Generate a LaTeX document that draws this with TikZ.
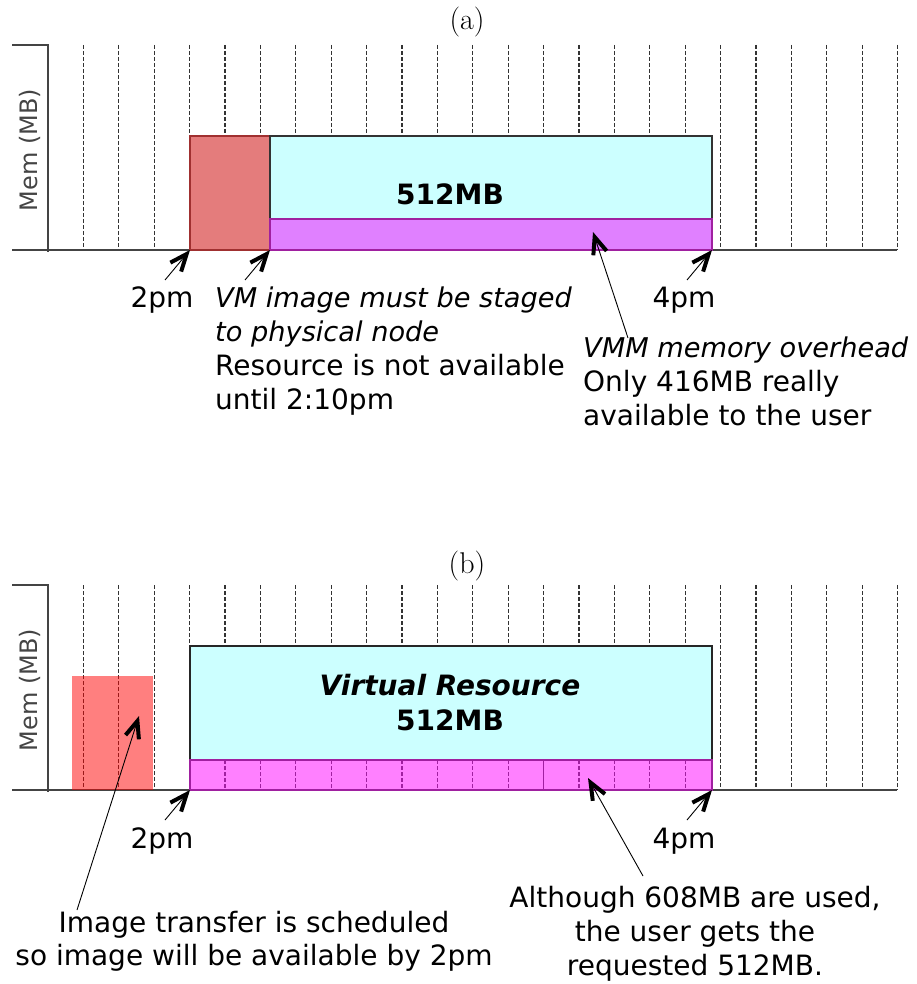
\documentclass[tikz,border=0pt]{standalone}
\usepackage{fontspec}
\newfontfamily\dv{DejaVu Sans}
\usetikzlibrary{arrows.meta}
\definecolor{cyanfill}{HTML}{CCFFFF}
\definecolor{magA}{HTML}{E080FF}
\definecolor{magB}{HTML}{FF80FF}
\definecolor{redA}{HTML}{E47C7C}
\definecolor{axisc}{HTML}{444444}
\definecolor{purp}{HTML}{A020A0}
\definecolor{darkred}{HTML}{A03030}
\newcommand{\itl}{\itshape\fontsize{27.2}{34}\selectfont}
\begin{document}
\begin{tikzpicture}[x=1pt,y=-1pt,
  lab/.style={font=\dv\fontsize{28}{34}\selectfont, inner sep=0pt},
  boldlab/.style={font=\dv\bfseries\fontsize{28}{35}\selectfont, inner sep=0pt},
  memlab/.style={font=\dv\fontsize{24}{28}\selectfont, text=axisc, rotate=90, inner sep=0pt},
  caplab/.style={font=\fontsize{30}{36}\selectfont, inner sep=0pt},
  gridline/.style={dash pattern=on 4pt off 2pt, line width=1.3pt, black!80},
  maggrid/.style={dash pattern=on 4pt off 2pt, line width=1.1pt, purp},
  axisline/.style={line width=1.6pt, axisc},
  sketch/.style={line width=0.9pt, -{Straight Barb[length=17pt,width=14pt,line width=4pt]}},
]
\useasboundingbox (0,0) rectangle (917,984);

% ---------- panel (a) ----------
\node[caplab] (capa) at (467,22) {(a)};
\foreach \k in {1,...,24} \draw[gridline] ({48+35.4*\k},45) -- ({48+35.4*\k},250);
\draw[axisline] (12,45) -- (48,45) -- (48,252);
\draw[axisline] (12,250) -- (897,250);
\node[memlab] (memA) at (30,150) {Mem (MB)};

\draw[fill=redA, draw=darkred, line width=1.2pt] (190,136) rectangle (270,250);
\draw[fill=cyanfill, draw=black!80, line width=1.2pt] (270,136) rectangle (712,219);
\draw[fill=magA, draw=purp, line width=1.2pt] (270,219) rectangle (712,250);
\node[boldlab, anchor=base] (memsizeA) at (450,205) {512MB};

\coordinate (tA2) at (190,250);  \coordinate (sA2) at (165,280);
\coordinate (tAst) at (270,250); \coordinate (sAst) at (245,280);
\coordinate (tA4) at (712,250);  \coordinate (sA4) at (687,280);
\coordinate (tAv) at (593,232);  \coordinate (sAv) at (628,338);
\draw[sketch] (sA2) -- (tA2);
\draw[sketch] (sAst) -- (tAst);
\draw[sketch] (sA4) -- (tA4);
\draw[sketch] (sAv) -- (tAv);

\node[lab, anchor=base] (twoA) at (162,307) {2pm};
\node[lab, anchor=base] (fourA) at (684,307) {4pm};
\node[lab, anchor=base west, align=left] (stage) at (215,409)
  {\itl VM image must be staged\\\itl to physical node\\Resource is not available\\until 2:10pm};
\node[lab, anchor=base west, align=left] (vmm) at (583,425)
  {\itl VMM memory overhead\\Only 416MB really\\available to the user};

% ---------- panel (b) ----------
\node[caplab] (capb) at (467,566) {(b)};
\foreach \k in {1,...,24} \draw[gridline] ({48+35.4*\k},585) -- ({48+35.4*\k},790);
\draw[axisline] (12,585) -- (48,585) -- (48,792);
\draw[axisline] (12,790) -- (897,790);
\node[memlab] (memB) at (30,690) {Mem (MB)};

\fill[red, fill opacity=0.5] (72,676) rectangle (153,790);
\draw[fill=cyanfill, draw=black!85, line width=1.4pt] (190,646) rectangle (712,760);
\draw[fill=magB, draw=purp, line width=1.2pt] (190,760) rectangle (712,790);
\foreach \k in {5,...,13,15,16,17,18} \draw[maggrid] ({48+35.4*\k},760) -- ({48+35.4*\k},790);
\draw[line width=1pt, purp] ({48+35.4*14},760) -- ({48+35.4*14},790);
\node[boldlab, anchor=base, align=center] (vres) at (450,730) {\itshape Virtual Resource\\512MB};

\coordinate (tB2) at (190,790);  \coordinate (sB2) at (165,820);
\coordinate (tB4) at (712,790);  \coordinate (sB4) at (687,820);
\coordinate (tBi) at (139,716);  \coordinate (sBi) at (77,910);
\coordinate (tBa) at (588,778);  \coordinate (sBa) at (643,876);
\draw[sketch] (sB2) -- (tB2);
\draw[sketch] (sB4) -- (tB4);
\draw[sketch] (sBi) -- (tBi);
\draw[sketch] (sBa) -- (tBa);

\node[lab, anchor=base] (twoB) at (162,848) {2pm};
\node[lab, anchor=base] (fourB) at (684,848) {4pm};
\node[lab, anchor=base, align=center, font=\dv\fontsize{28}{33}\selectfont] (transfer) at (254,965)
  {Image transfer is scheduled\\so image will be available by 2pm};
\node[lab, anchor=base, align=center] (although) at (695,975)
  {Although 608MB are used,\\the user gets the\\requested 512MB.};
\end{tikzpicture}
\end{document}
